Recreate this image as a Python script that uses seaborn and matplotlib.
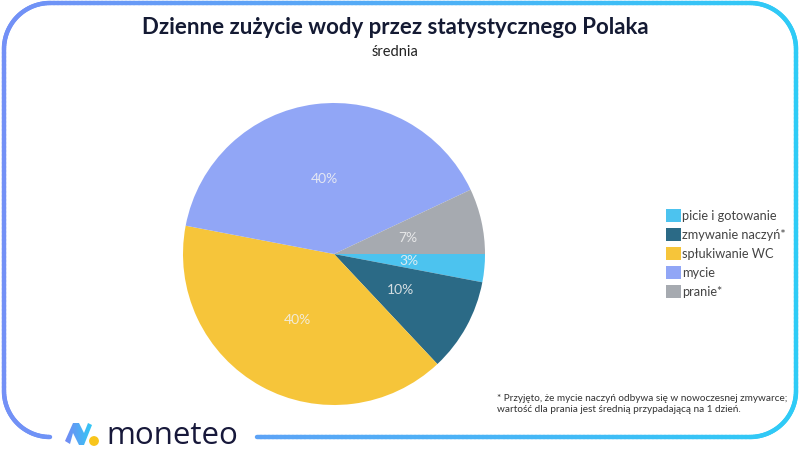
import numpy as np
import matplotlib
matplotlib.use("Agg")
import matplotlib.pyplot as plt
import seaborn as sns
from matplotlib.collections import LineCollection
from matplotlib.patches import Polygon, Circle, Patch

# ---- data ----
categories = ["picie i gotowanie", "zmywanie naczyń*", "spłukiwanie WC", "mycie", "pranie*"]
values = [3, 10, 40, 40, 7]
colors = ["#4CC3EF", "#2B6A86", "#F6C53A", "#91A6F6", "#A6AAB0"]
title = "Dzienne zużycie wody przez statystycznego Polaka"
subtitle = "średnia"
footnote = ("* Przyjęto, że mycie naczyń odbywa się w nowoczesnej zmywarce;\n"
            "wartość dla prania jest średnią przypadającą na 1 dzień.")
brand = "moneteo"

sns.set_theme(style="white")
plt.rcParams['font.family'] = ['Lato', 'DejaVu Sans']

W, H = 800, 450
fig = plt.figure(figsize=(8, 4.5), dpi=100)
fig.patch.set_facecolor("white")

ov = fig.add_axes([0, 0, 1, 1])
ov.set_xlim(0, W)
ov.set_ylim(H, 0)
ov.axis("off")

# ---- gradient rounded border ----
L, R, T, B, r = 4, 796, 3, 437, 46
def arc(cx, cy, a0, a1, n=40):
    a = np.radians(np.linspace(a0, a1, n))
    return np.c_[cx + r * np.cos(a), cy - r * np.sin(a)]
pts = [np.array([[257, B], [R - r, B]])]
pts.append(arc(R - r, B - r, -90, 0))
pts.append(np.array([[R, B - r], [R, T + r]]))
pts.append(arc(R - r, T + r, 0, 90))
pts.append(np.array([[R - r, T], [L + r, T]]))
pts.append(arc(L + r, T + r, 90, 180))
pts.append(np.array([[L, T + r], [L, B - r]]))
pts.append(arc(L + r, B - r, 180, 270))
pts.append(np.array([[L + r, B], [50, B]]))
path = np.vstack(pts)
dense = [path[0]]
for p0, p1 in zip(path[:-1], path[1:]):
    n = max(2, int(np.hypot(*(p1 - p0)) / 4))
    dense.extend(np.linspace(p0, p1, n)[1:])
dense = np.array(dense)
segs = np.stack([dense[:-1], dense[1:]], axis=1)
cmap = matplotlib.colors.LinearSegmentedColormap.from_list("g", ["#7390F6", "#2ECBF6"])
cvals = segs[:, :, 0].mean(axis=1) / W
lc = LineCollection(segs, colors=cmap(cvals), linewidths=3.2, capstyle="round")
ov.add_collection(lc)

# ---- logo ----
icon = [(65, 441), (73, 423), (79, 423), (84, 433), (88, 423), (92, 425),
        (84, 445), (79, 445), (73, 433), (70, 444)]
poly = Polygon(icon, closed=True, facecolor="none", edgecolor="none")
ov.add_patch(poly)
grad = np.linspace(0, 1, 64).reshape(1, -1)
im = ov.imshow(grad, extent=(63, 93, 447, 421), cmap=matplotlib.colors.LinearSegmentedColormap.from_list(
    "ic", ["#7A84F4", "#2FCBF6"]), aspect="auto", zorder=3)
im.set_clip_path(poly)
ov.add_patch(Circle((94, 441), 4.2, color="#F8C51C", zorder=4))
ov.text(106, 436, brand, fontsize=22.5, color="#17183A", va="center", ha="left",
        family=["Open Sans", "DejaVu Sans"])

# ---- titles ----
ov.text(395, 28, title, fontsize=16, fontweight="bold", color="#141A33", ha="center", va="center")
ov.text(395, 52, subtitle, fontsize=10.5, color="#222222", ha="center", va="center")
ov.text(497, 404, footnote, fontsize=7.2, color="#333333", ha="left", va="center", linespacing=1.35)

# ---- pie ----
cx, cy, rad = 334, 254, 151
ax = fig.add_axes([(cx - rad) / W, (H - cy - rad) / H, 2 * rad / W, 2 * rad / H])
wedges, texts = ax.pie(values, colors=colors, startangle=0, counterclock=False,
                       labels=[f"{v}%" for v in values], labeldistance=0.5,
                       textprops=dict(color="#F2F2F2", fontsize=10, alpha=0.85),
                       wedgeprops=dict(linewidth=0))
for t in texts:
    t.set_ha("center"); t.set_va("center")
ax.set_xlim(-1, 1); ax.set_ylim(-1, 1)
ax.set_aspect("equal")
ax.axis("off")

# ---- legend ----
handles = [Patch(facecolor=c, edgecolor="none") for c in colors]
leg = fig.legend(handles, categories, loc="upper left", bbox_to_anchor=(661 / W, 1 - 204 / H),
                 frameon=False, fontsize=9.2, handlelength=1.15, handleheight=1.15,
                 handletextpad=0.12, labelspacing=0.5, borderaxespad=0)
for t in leg.get_texts():
    t.set_color("#444444")

fig.savefig("out.png", dpi=100, facecolor="white")
